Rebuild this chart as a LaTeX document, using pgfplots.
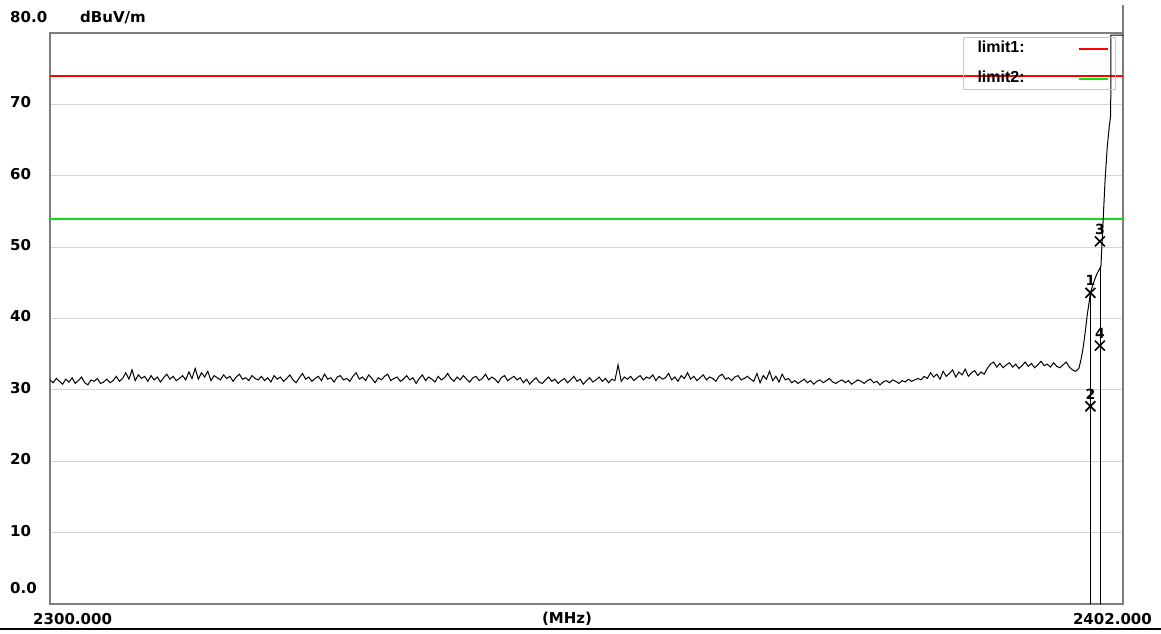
\documentclass[border=0pt]{standalone}
\usepackage{fontspec}
\setmainfont{DejaVu Sans}
\newfontfamily\legfont{Liberation Sans}
\usepackage{pgfplots}
\pgfplotsset{compat=1.18}
\definecolor{framegray}{RGB}{125,125,125}
\definecolor{gridgray}{RGB}{212,212,212}
\definecolor{leggray}{RGB}{200,200,200}
\definecolor{limred}{RGB}{255,0,0}
\definecolor{limgreen}{RGB}{20,220,20}
\pgfplotstableread{
x y
2300.0 31.4
2300.3 31.0
2300.6 31.6
2300.9 31.2
2301.2 30.8
2301.5 31.5
2301.8 31.1
2302.1 31.7
2302.4 30.9
2302.7 31.3
2303.0 31.8
2303.3 31.0
2303.6 30.7
2303.9 31.4
2304.2 31.2
2304.5 31.6
2304.8 30.9
2305.1 31.1
2305.4 31.5
2305.7 31.0
2306.0 31.3
2306.3 31.9
2306.6 31.2
2306.9 31.6
2307.2 32.4
2307.5 31.5
2307.8 32.8
2308.1 31.3
2308.4 32.1
2308.7 31.6
2309.0 31.9
2309.3 31.2
2309.6 32.0
2309.9 31.4
2310.2 31.8
2310.5 31.1
2310.8 31.7
2311.1 32.2
2311.4 31.5
2311.7 31.9
2312.0 31.3
2312.3 31.6
2312.6 32.0
2312.9 31.4
2313.2 32.5
2313.5 31.6
2313.8 33.0
2314.1 31.5
2314.4 32.4
2314.7 31.8
2315.0 32.6
2315.3 31.3
2315.6 32.0
2315.9 31.7
2316.2 31.4
2316.5 32.1
2316.8 31.6
2317.1 31.9
2317.4 31.2
2317.7 31.8
2318.0 32.2
2318.3 31.5
2318.6 31.7
2318.9 31.3
2319.2 32.0
2319.5 31.6
2319.8 31.4
2320.1 31.9
2320.4 31.3
2320.7 31.7
2321.0 31.1
2321.3 32.0
2321.6 31.5
2321.9 31.8
2322.2 31.2
2322.5 31.6
2322.8 32.1
2323.1 31.4
2323.4 31.0
2323.7 31.7
2324.0 32.3
2324.3 31.5
2324.6 31.8
2324.9 31.2
2325.2 31.6
2325.5 31.9
2325.8 31.3
2326.1 32.2
2326.4 31.5
2326.7 31.7
2327.0 31.1
2327.3 31.8
2327.6 32.0
2327.9 31.4
2328.2 31.6
2328.5 31.2
2328.8 31.9
2329.1 32.4
2329.4 31.5
2329.7 31.8
2330.0 31.3
2330.3 32.1
2330.6 31.6
2330.9 31.0
2331.2 31.7
2331.5 31.4
2331.8 31.9
2332.1 32.2
2332.4 31.3
2332.7 31.6
2333.0 31.8
2333.3 31.2
2333.6 31.5
2333.9 32.0
2334.2 31.4
2334.5 31.7
2334.8 30.9
2335.1 31.6
2335.4 32.1
2335.7 31.3
2336.0 31.8
2336.3 31.5
2336.6 31.1
2336.9 31.9
2337.2 31.4
2337.5 31.7
2337.8 32.3
2338.1 31.6
2338.4 31.2
2338.7 31.8
2339.0 31.4
2339.3 32.0
2339.6 31.5
2339.9 31.1
2340.2 31.7
2340.5 31.9
2340.8 31.3
2341.1 31.6
2341.4 32.2
2341.7 31.4
2342.0 31.8
2342.3 31.5
2342.6 31.0
2342.9 31.7
2343.2 32.0
2343.5 31.3
2343.8 31.6
2344.1 31.9
2344.4 31.4
2344.7 31.7
2345.0 31.0
2345.3 31.5
2345.6 30.8
2345.9 31.3
2346.2 31.7
2346.5 31.1
2346.8 30.9
2347.1 31.4
2347.4 31.8
2347.7 31.2
2348.0 31.5
2348.3 30.9
2348.6 31.3
2348.9 31.6
2349.2 31.0
2349.5 31.4
2349.8 31.9
2350.1 31.2
2350.4 31.5
2350.7 30.8
2351.0 31.3
2351.3 31.7
2351.6 31.1
2351.9 31.4
2352.2 31.8
2352.5 31.2
2352.8 31.6
2353.1 31.0
2353.4 31.5
2353.7 31.3
2354.0 33.5
2354.3 31.2
2354.6 31.8
2354.9 31.5
2355.2 31.9
2355.5 31.3
2355.8 31.7
2356.1 32.0
2356.4 31.4
2356.7 31.8
2357.0 31.6
2357.3 32.1
2357.6 31.3
2357.9 31.9
2358.2 31.5
2358.5 31.7
2358.8 32.3
2359.1 31.4
2359.4 31.8
2359.7 31.2
2360.0 32.0
2360.3 31.6
2360.6 32.4
2360.9 31.5
2361.2 31.9
2361.5 31.3
2361.8 31.7
2362.1 32.1
2362.4 31.4
2362.7 31.8
2363.0 31.6
2363.3 31.2
2363.6 31.9
2363.9 32.2
2364.2 31.5
2364.5 31.7
2364.8 31.3
2365.1 31.8
2365.4 32.0
2365.7 31.4
2366.0 31.6
2366.3 31.9
2366.6 31.5
2366.9 31.2
2367.2 32.3
2367.5 31.0
2367.8 32.0
2368.1 31.5
2368.4 32.6
2368.7 31.3
2369.0 31.9
2369.3 31.1
2369.6 32.2
2369.9 31.4
2370.2 31.6
2370.5 31.0
2370.8 31.3
2371.1 30.9
2371.4 31.2
2371.7 31.5
2372.0 31.0
2372.3 31.3
2372.6 30.8
2372.9 31.2
2373.2 31.4
2373.5 31.0
2373.8 31.3
2374.1 31.6
2374.4 31.1
2374.7 30.9
2375.0 31.2
2375.3 31.4
2375.6 31.0
2375.9 31.3
2376.2 30.8
2376.5 31.1
2376.8 31.4
2377.1 31.2
2377.4 30.9
2377.7 31.3
2378.0 31.5
2378.3 31.0
2378.6 31.2
2378.9 30.7
2379.2 31.1
2379.5 31.3
2379.8 31.0
2380.1 31.4
2380.4 31.2
2380.7 30.9
2381.0 31.3
2381.3 31.1
2381.6 31.5
2381.9 31.2
2382.2 31.4
2382.5 31.6
2382.8 31.4
2383.1 31.9
2383.4 31.6
2383.7 32.4
2384.0 31.8
2384.3 32.2
2384.6 31.5
2384.9 32.6
2385.2 31.9
2385.5 32.3
2385.8 32.8
2386.1 31.8
2386.4 32.5
2386.7 32.1
2387.0 32.9
2387.3 31.9
2387.6 32.4
2387.9 32.7
2388.2 32.0
2388.5 32.5
2388.8 32.2
2389.1 33.0
2389.4 33.6
2389.7 33.9
2390.0 33.2
2390.3 33.7
2390.6 33.1
2390.9 33.5
2391.2 33.8
2391.5 33.2
2391.8 33.6
2392.1 33.0
2392.4 33.4
2392.7 33.9
2393.0 33.3
2393.3 33.7
2393.6 33.1
2393.9 33.5
2394.2 34.0
2394.5 33.4
2394.8 33.6
2395.1 33.2
2395.4 33.8
2395.7 33.3
2396.0 33.1
2396.3 33.5
2396.6 33.9
2396.9 33.2
2397.2 32.8
2397.5 32.6
2397.8 33.0
2398.0 34.2
2398.2 35.8
2398.4 38.0
2398.6 40.5
2398.8 42.5
2398.9 43.6
2399.2 45.0
2399.5 46.2
2399.9 47.3
2400.1 53.5
2400.3 59.5
2400.5 64.0
2400.7 67.0
2400.83 68.5
2400.85 79.7
2402.0 79.7
}\trace
\pgfplotstableread{
x y lab
2398.9 43.6 1
2398.9 27.7 2
2399.8 50.8 3
2399.8 36.2 4
}\markers
\begin{document}
\begin{tikzpicture}[x=1pt,y=1pt]
\useasboundingbox (0,0) rectangle (1161,633);
\begin{axis}[
  at={(50pt,29pt)}, anchor=south west,
  scale only axis, width=1073pt, height=571pt,
  xmin=2300, xmax=2402, ymin=0, ymax=80,
  axis line style={draw=framegray, line width=2pt},
  major tick length=0pt,
  ytick={10,20,30,40,50,60,70},
  yticklabels={10,20,30,40,50,60,70},
  ymajorgrids,
  grid style={draw=gridgray, line width=1pt},
  extra y ticks={0,80},
  extra y tick labels={0.0,80.0},
  extra y tick style={grid=none, yticklabel style={yshift=14pt}},
  xtick={2300},
  xticklabels={2300.000},
  extra x ticks={2402},
  extra x tick labels={2402.000},
  extra x tick style={grid=none, xticklabel style={anchor=north east, xshift=46pt}},
  /pgf/number format/assume math mode=true,
  tick label style={font=\fontsize{15}{18}\selectfont\bfseries, inner sep=0pt},
  yticklabel style={anchor=west, xshift=-40pt, yshift=2pt},
  xticklabel style={anchor=north west, xshift=-17pt, yshift=-9pt},
  xlabel={(MHz)},
  ylabel={dBuV/m},
  every axis x label/.style={at={(rel axis cs:0.4818,0)}, anchor=north, yshift=-8pt, inner sep=0pt, font=\fontsize{15}{18}\selectfont\bfseries},
  every axis y label/.style={at={(rel axis cs:0,1)}, anchor=west, xshift=30pt, yshift=15.5pt, inner sep=0pt, font=\fontsize{15}{18}\selectfont\bfseries},
  legend plot pos=right,
  legend cell align=left,
  legend image code/.code={\draw[#1] (0pt,0pt) -- (29pt,0pt);},
  legend style={at={(rel axis cs:0.9935,0.993)}, anchor=north east,
    draw=leggray, line width=1pt, fill=none,
    inner xsep=7pt, inner ysep=4pt, row sep=16pt, column sep=18pt,
    font=\legfont\fontsize{16}{18}\selectfont\bfseries,
    nodes={inner xsep=7pt, inner ysep=1pt, text width=75pt, align=left, text height=10pt, text depth=2pt}},
  clip mode=individual,
]
\addplot[limred, line width=2pt] coordinates {(2300,74) (2402,74)};
\addlegendentry{limit1:}
\addplot[limgreen, line width=2pt] coordinates {(2300,54) (2402,54)};
\addlegendentry{limit2:}
\addplot[black, line width=1pt, forget plot] table[x=x, y=y] {\trace};
\addplot[black, line width=1pt, forget plot] coordinates {(2398.9,0) (2398.9,43.6)};
\addplot[black, line width=1pt, forget plot] coordinates {(2399.9,0) (2399.9,47.3)};
\addplot[black, only marks, mark=x, mark size=7pt, mark options={line width=1.7pt}, forget plot,
  nodes near coords, point meta=explicit symbolic,
  every node near coord/.append style={font=\fontsize{14}{16}\selectfont\bfseries, anchor=south, inner sep=0pt, yshift=6pt, black}]
  table[x=x, y=y, meta=lab] {\markers};
\end{axis}
\draw[framegray, line width=2pt] (1123,600) -- (1123,628);
\draw[black, line width=2pt] (0,4) -- (1161,4);
\end{tikzpicture}
\end{document}
